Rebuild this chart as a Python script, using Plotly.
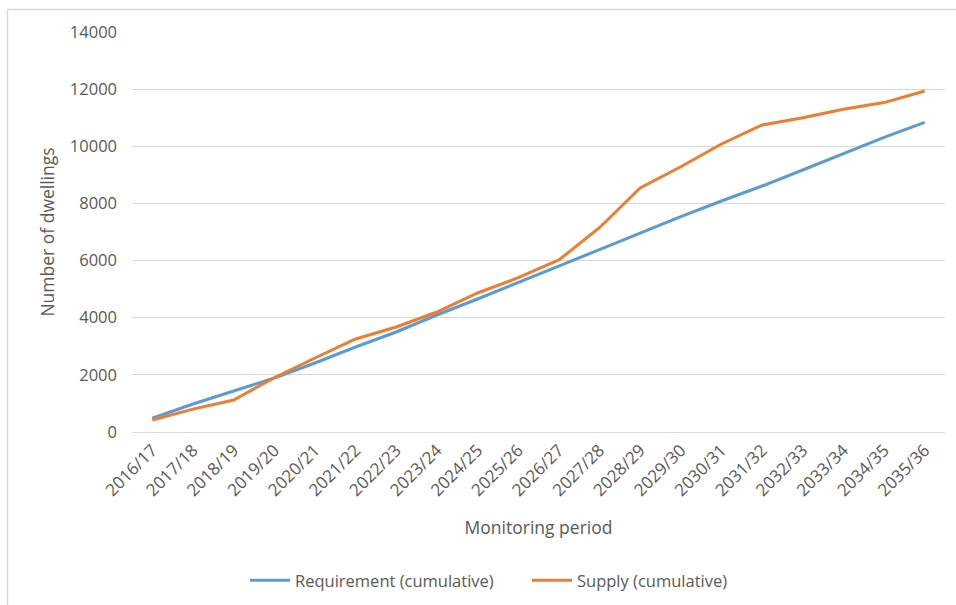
import plotly.graph_objects as go

periods = ["2016/17", "2017/18", "2018/19", "2019/20", "2020/21", "2021/22", "2022/23",
           "2023/24", "2024/25", "2025/26", "2026/27", "2027/28", "2028/29", "2029/30",
           "2030/31", "2031/32", "2032/33", "2033/34", "2034/35", "2035/36"]
requirement = [480, 980, 1435, 1890, 2415, 2975, 3500, 4095, 4655, 5230,
               5810, 6405, 6965, 7535, 8085, 8610, 9170, 9750, 10310, 10840]
supply = [420, 800, 1120, 1900, 2590, 3255, 3675, 4200, 4865, 5400,
          6020, 7150, 8540, 9285, 10080, 10745, 11000, 11295, 11530, 11935]
y_ticks = [0, 2000, 4000, 6000, 8000, 10000, 12000, 14000]

FONT = "Open Sans"
TXT = "#595959"

fig = go.Figure()
fig.add_trace(go.Scatter(x=periods, y=requirement, mode="lines", name="Requirement (cumulative)",
                         line=dict(color="#5B9BD5", width=3)))
fig.add_trace(go.Scatter(x=periods, y=supply, mode="lines", name="Supply (cumulative)",
                         line=dict(color="#ED7D31", width=3)))

fig.update_layout(
    width=956, height=605,
    margin=dict(l=132, r=11, t=32, b=173, autoexpand=False),
    paper_bgcolor="white", plot_bgcolor="white",
    font=dict(family=FONT, color=TXT, size=16),
    showlegend=True,
    legend=dict(orientation="h", xref="container", x=245 / 956, xanchor="left",
                yref="container", y=1 - 563 / 605, yanchor="top",
                font=dict(family=FONT, size=16.5, color=TXT), itemwidth=40,
                entrywidth=227, entrywidthmode="pixels", tracegroupgap=0),
    xaxis=dict(
        type="category", range=[-0.5, 19.5], tickangle=-45, automargin=False,
        showgrid=False, zeroline=False, showline=False, ticks="",
        tickfont=dict(family=FONT, size=17, color=TXT),
        ticklabelstandoff=4,
        title=dict(text="Monitoring period", font=dict(family=FONT, size=17.5, color=TXT), standoff=22),
    ),
    yaxis=dict(
        range=[0, 14000], tickvals=y_ticks, ticktext=[str(v) for v in y_ticks], automargin=False,
        showgrid=True, gridcolor="#D9D9D9", gridwidth=1,
        zeroline=True, zerolinecolor="#D9D9D9", zerolinewidth=1,
        showline=False, ticks="",
        tickfont=dict(family=FONT, size=16.5, color=TXT),
        ticklabelstandoff=14,
        title=dict(text="Number of dwellings", font=dict(family=FONT, size=17.5, color=TXT), standoff=10),
    ),
    shapes=[
        dict(type="line", xref="paper", yref="paper", x0=(7.5 - 132) / 813, x1=1.02,
             y0=(432 - 9.5) / 400, y1=(432 - 9.5) / 400, line=dict(color="#D9D9D9", width=1.5)),
        dict(type="line", xref="paper", yref="paper", x0=(7.5 - 132) / 813, x1=(7.5 - 132) / 813,
             y0=(432 - 9.5) / 400, y1=-0.45, line=dict(color="#D9D9D9", width=1.5)),
    ],
)

fig.write_html("out.html")
